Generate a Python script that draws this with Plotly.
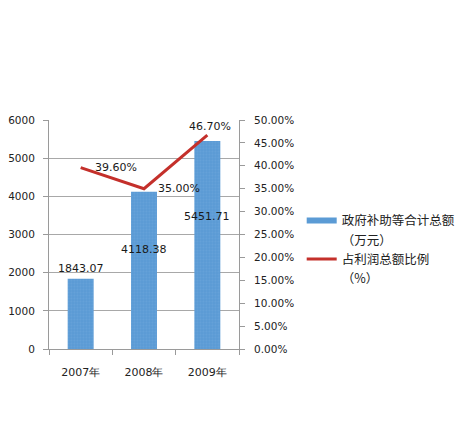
import plotly.graph_objects as go

# ==========================
# DATA
# ==========================

years = ["2007年", "2008年", "2009年"]
subsidy = [1843.07, 4118.38, 5451.71]
ratio = [0.396, 0.350, 0.467]

bar_name = ["政府补助等合计总额", "（万元）"]
line_name = ["占利润总额比例", "（%）"]

BLUE = "#5B9BD5"
RED = "#C4302B"

# ==========================
# FIGURE
# ==========================

fig = go.Figure()

fig.add_trace(
    go.Bar(
        x=years,
        y=subsidy,
        name=bar_name[0],
        width=0.41,
        showlegend=False,
        marker=dict(
            color=BLUE,
            line=dict(width=0),
            pattern=dict(shape=".", fgcolor="#6FA8DC", size=3, solidity=0.3),
        ),
    )
)

fig.add_trace(
    go.Scatter(
        x=years,
        y=ratio,
        name=line_name[0],
        mode="lines",
        yaxis="y2",
        showlegend=False,
        line=dict(color=RED, width=3),
    )
)

# legend entries: one row per text line, swatch only on the first row
legend_rows = [
    (bar_name[0], BLUE, 6),
    (bar_name[1], "rgba(0,0,0,0)", 0),
    (line_name[0], RED, 3),
    (line_name[1], "rgba(0,0,0,0)", 0),
]
for label, color, lw in legend_rows:
    fig.add_trace(
        go.Scatter(
            x=[None],
            y=[None],
            name=label,
            mode="lines",
            line=dict(color=color, width=lw),
            hoverinfo="skip",
        )
    )

# ==========================
# DATA LABELS
# ==========================

label_font = dict(family="DejaVu Sans", size=11, color="#1a1a1a")
annotations = []

for i, (yr, v) in enumerate(zip(years, subsidy)):
    if i == 0:
        annotations.append(dict(x=yr, y=v, text=f"{v:.2f}", showarrow=False,
                                yanchor="bottom", yshift=2, font=label_font))
    else:
        annotations.append(dict(x=yr, y=v * 0.635, text=f"{v:.2f}", showarrow=False,
                                yanchor="middle", font=label_font))

for i, (yr, r) in enumerate(zip(years, ratio)):
    if i < 2:
        annotations.append(dict(x=yr, y=r, yref="y2", text=f"{r * 100:.2f}%",
                                showarrow=False, xanchor="left", xshift=12,
                                yanchor="middle", font=label_font))
    else:
        annotations.append(dict(x=yr, y=r, yref="y2", text=f"{r * 100:.2f}%",
                                showarrow=False, xanchor="center", xshift=3,
                                yanchor="bottom", yshift=0, font=label_font))

# ==========================
# STYLE
# ==========================

fig.update_layout(
    width=466,
    height=424,
    margin=dict(l=41, r=235, t=112, b=83),
    paper_bgcolor="white",
    plot_bgcolor="white",
    font=dict(family="DejaVu Sans", size=10.5, color="#222222"),
    annotations=annotations,
    xaxis=dict(
        showline=True,
        linecolor="#9a9a9a",
        linewidth=1,
        ticks="outside",
        tickson="boundaries",
        ticklen=5,
        tickcolor="#9a9a9a",
        ticklabelstandoff=13,
        showgrid=False,
        automargin=False,
        tickfont=dict(family="DejaVu Sans", size=11),
    ),
    yaxis=dict(
        range=[0, 6000],
        dtick=1000,
        showline=True,
        linecolor="#9a9a9a",
        gridcolor="#a8a8a8",
        gridwidth=1,
        zeroline=False,
        ticks="outside",
        ticklen=5,
        tickcolor="#9a9a9a",
        ticklabelstandoff=6,
        automargin=False,
    ),
    yaxis2=dict(
        overlaying="y",
        side="right",
        range=[0, 0.5],
        dtick=0.05,
        tickformat=".2%",
        showline=True,
        linecolor="#9a9a9a",
        showgrid=False,
        zeroline=False,
        ticks="outside",
        ticklen=5,
        tickcolor="#9a9a9a",
        ticklabelstandoff=7,
        automargin=False,
    ),
    legend=dict(
        x=1.33,
        y=0.625,
        xanchor="left",
        yanchor="top",
        font=dict(family="Noto Sans CJK SC", size=12.5, color="#222222"),
        tracegroupgap=0,
        itemwidth=30,
    ),
)

fig.write_html("out.html")
